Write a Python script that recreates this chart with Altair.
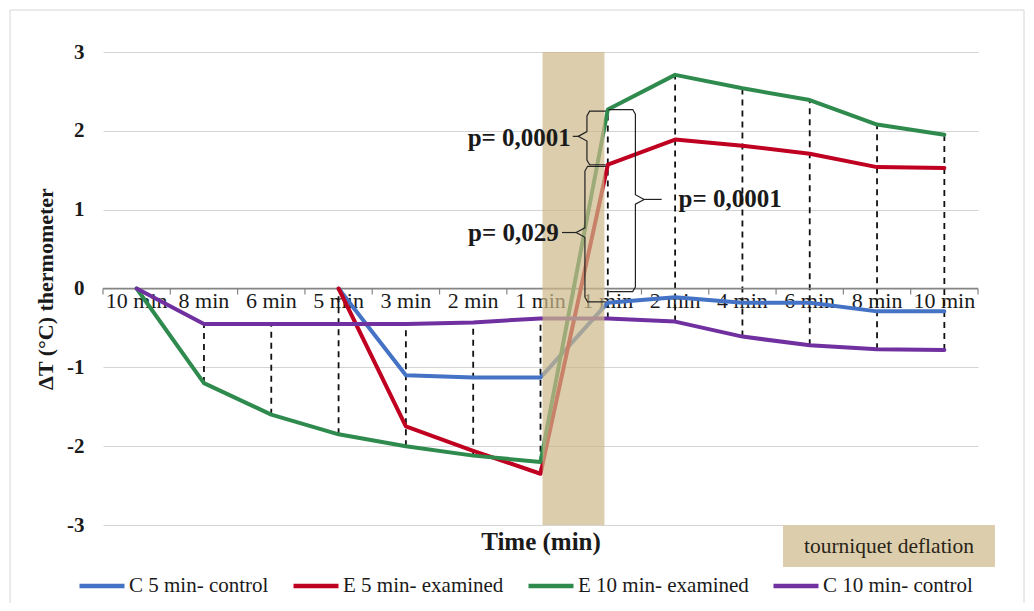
import altair as alt
import pandas as pd

# ---------------- data ----------------
categories = ["10 min", "8 min", "6 min", "5 min", "3 min", "2 min", "1 min",
              "1 min", "2 min", "4 min", "6 min", "8 min", "10 min"]
series_names = ["C 5 min- control", "E 5 min- examined", "E 10 min- examined", "C 10 min- control"]
series_colors = ["#4472c4", "#c00020", "#2f8a4e", "#7030a0"]

c5_control = [None, None, None, 0, -1.10, -1.13, -1.13, -0.18, -0.11, -0.18, -0.18, -0.29, -0.29]
e5_examined = [None, None, None, 0, -1.75, -2.06, -2.35, 1.57, 1.89, 1.81, 1.71, 1.54, 1.53]
e10_examined = [0, -1.20, -1.60, -1.85, -2.00, -2.12, -2.20, 2.27, 2.71, 2.54, 2.39, 2.08, 1.95]
c10_control = [0, -0.45, -0.45, -0.45, -0.45, -0.43, -0.38, -0.38, -0.42, -0.61, -0.72, -0.77, -0.78]

y_ticks = [-3, -2, -1, 0, 1, 2, 3]
deflation_band = [6.03, 6.95]          # tourniquet deflation period (category-index units)

p_texts = ["p= 0,0001", "p= 0,029", "p= 0,0001"]
p_x = [6.45, 6.27, 8.05]
p_y = [1.91, 0.70, 1.14]
p_align = ["right", "right", "left"]

# braces: vertical x, hook x, tip x, top, bottom, middle
brace_vx = [6.69, 6.66, 7.41]
brace_hook = [6.97, 6.97, 7.01]
brace_tip = [6.48, 6.32, 7.80]
brace_top = [2.25, 1.55, 2.27]
brace_bot = [1.57, -0.17, -0.04]
brace_mid = [1.93, 0.71, 1.13]

SERIF = "Liberation Serif"
TXT = "#1a1a1a"

# ---------------- tables ----------------
rows = []
for name, vals in zip(series_names, [c5_control, e5_examined, e10_examined, c10_control]):
    for i, v in enumerate(vals):
        if v is not None:
            rows.append({"series": name, "idx": i, "val": v})
df = pd.DataFrame(rows)

hl = df.groupby("idx")["val"].agg(["min", "max"]).reset_index()
hl = hl[hl["max"] > hl["min"]]

lab_df = pd.DataFrame({"idx": list(range(len(categories))), "label": categories, "zero": 0})
tick_df = pd.DataFrame({"idx": [i - 0.5 for i in range(len(categories) + 1)], "zero": 0})
zero_df = pd.DataFrame({"x0": [-0.5], "x1": [len(categories) - 0.5], "zero": [0]})
band_df = pd.DataFrame({"x0": [deflation_band[0]], "x1": [deflation_band[1]],
                        "lo": [y_ticks[0]], "hi": [y_ticks[-1]]})

brace_rows = []
dash_rows = []
for b in range(len(brace_vx)):
    vx, hk, tp = brace_vx[b], brace_hook[b], brace_tip[b]
    top, bot, mid = brace_top[b], brace_bot[b], brace_mid[b]
    s = 1 if hk > vx else -1
    c = 0.06
    pts = [(hk, top), (vx + s * 0.04, top), (vx, top - c), (vx, mid + c),
           (vx - s * 0.13, mid), (vx, mid - c), (vx, bot + c), (vx + s * 0.04, bot), (hk, bot)]
    for k, (px, py) in enumerate(pts):
        brace_rows.append({"b": b, "o": k, "x": px, "y": py})
    dash_rows.append({"x0": vx - s * 0.13, "x1": tp, "y": mid})
brace_df = pd.DataFrame(brace_rows)
dash_df = pd.DataFrame(dash_rows)
p_df = pd.DataFrame({"x": p_x, "y": p_y, "t": p_texts, "a": p_align})
one = pd.DataFrame({"a": [0]})

# ---------------- scales / axes ----------------
xs = alt.Scale(domain=[-0.5, len(categories) - 0.5], nice=False, zero=False)
ys = alt.Scale(domain=[y_ticks[0], y_ticks[-1]], nice=False, zero=False)
x_axis = alt.Axis(title="Time (min)", labels=False, ticks=False, domain=False, grid=False,
                  titleFont=SERIF, titleFontSize=25, titleFontWeight="bold", titleColor=TXT,
                  titlePadding=4)
y_axis = alt.Axis(title="ΔT (°C) thermometer", values=y_ticks, grid=True, gridColor="#d4d4d4",
                  gridWidth=1, ticks=False, domain=False, labelFont=SERIF, labelFontSize=21,
                  labelFontWeight="bold", labelColor=TXT, labelPadding=19,
                  labelExpr="replace(datum.label, '\u2212', '-')",
                  titleFont=SERIF, titleFontSize=22, titleFontWeight="bold", titleColor=TXT,
                  titlePadding=9)


def X(f):
    return alt.X(f, type="quantitative", scale=xs, axis=x_axis)


def Y(f):
    return alt.Y(f, type="quantitative", scale=ys, axis=y_axis)


hl_layer = alt.Chart(hl).mark_rule(color="#111111", strokeWidth=1.8, strokeDash=[6, 5]).encode(
    x=X("idx"), y=Y("min"), y2="max")

zero_layer = alt.Chart(zero_df).mark_rule(color="#858585", strokeWidth=1.5).encode(
    x=X("x0"), x2="x1", y=Y("zero"))

tick_layer = alt.Chart(tick_df).mark_rule(color="#858585", strokeWidth=1.2, y2Offset=6).encode(
    x=X("idx"), y=Y("zero"), y2="zero")

lab_layer = alt.Chart(lab_df).mark_text(font=SERIF, fontSize=22, color=TXT, dy=12,
                                        baseline="middle").encode(
    x=X("idx"), y=Y("zero"), text="label")

line_layer = alt.Chart(df).mark_line(strokeWidth=4, strokeJoin="round", strokeCap="round").encode(
    x=X("idx"), y=Y("val"),
    color=alt.Color("series:N", sort=series_names,
                    scale=alt.Scale(domain=series_names, range=series_colors),
                    legend=alt.Legend(title=None, orient="none", legendX=-26, legendY=509,
                                      direction="horizontal", symbolType="stroke",
                                      symbolStrokeWidth=4.5, symbolSize=2025,
                                      labelFont=SERIF, labelFontSize=21, labelColor=TXT,
                                      labelOffset=2, columnPadding=15, labelLimit=400)),
    detail="series:N")

band_layer = alt.Chart(band_df).mark_rect(color="#cdb98a", opacity=0.7).encode(
    x=X("x0"), x2="x1", y=Y("lo"), y2="hi")

brace_layer = alt.Chart(brace_df).mark_line(color="#222222", strokeWidth=1.2).encode(
    x=X("x"), y=Y("y"), detail="b:N", order="o:Q")

dash_layer = alt.Chart(dash_df).mark_rule(color="#222222", strokeWidth=1.2).encode(
    x=X("x0"), x2="x1", y=Y("y"))

p_right = alt.Chart(p_df[p_df["a"] == "right"]).mark_text(
    font=SERIF, fontSize=25, fontWeight="bold", color=TXT, align="right", baseline="middle").encode(
    x=X("x"), y=Y("y"), text="t")
p_left = alt.Chart(p_df[p_df["a"] == "left"]).mark_text(
    font=SERIF, fontSize=25, fontWeight="bold", color=TXT, align="left", baseline="middle").encode(
    x=X("x"), y=Y("y"), text="t")

box_layer = alt.Chart(one).mark_rect(color="#dccead").encode(
    x=alt.value(680), x2=alt.value(892), y=alt.value(473), y2=alt.value(515))
box_text = alt.Chart(one).mark_text(text="tourniquet deflation", font=SERIF, fontSize=21.5,
                                    color="#2a2418", baseline="middle").encode(
    x=alt.value(786), y=alt.value(495))

border_top = alt.Chart(one).mark_rule(color="#d6d6d6", strokeWidth=1).encode(
    x=alt.value(-93), x2=alt.value(921), y=alt.value(-42))
border_left = alt.Chart(one).mark_rule(color="#d6d6d6", strokeWidth=1).encode(
    x=alt.value(-93), y=alt.value(-42), y2=alt.value(551))
border_right = alt.Chart(one).mark_rule(color="#d6d6d6", strokeWidth=1).encode(
    x=alt.value(921), y=alt.value(-42), y2=alt.value(551))

chart = alt.layer(
    hl_layer, zero_layer, tick_layer, lab_layer, line_layer, band_layer,
    brace_layer, dash_layer, p_right, p_left, box_layer, box_text,
    border_top, border_left, border_right
).properties(
    width=875, height=473,
    autosize=alt.AutoSizeParams(type="none"),
    padding={"left": 95, "top": 44, "right": 47, "bottom": 78},
    background="white"
).configure_view(stroke=None)

chart.save("out.html", embed_options={"renderer": "svg", "actions": False})
